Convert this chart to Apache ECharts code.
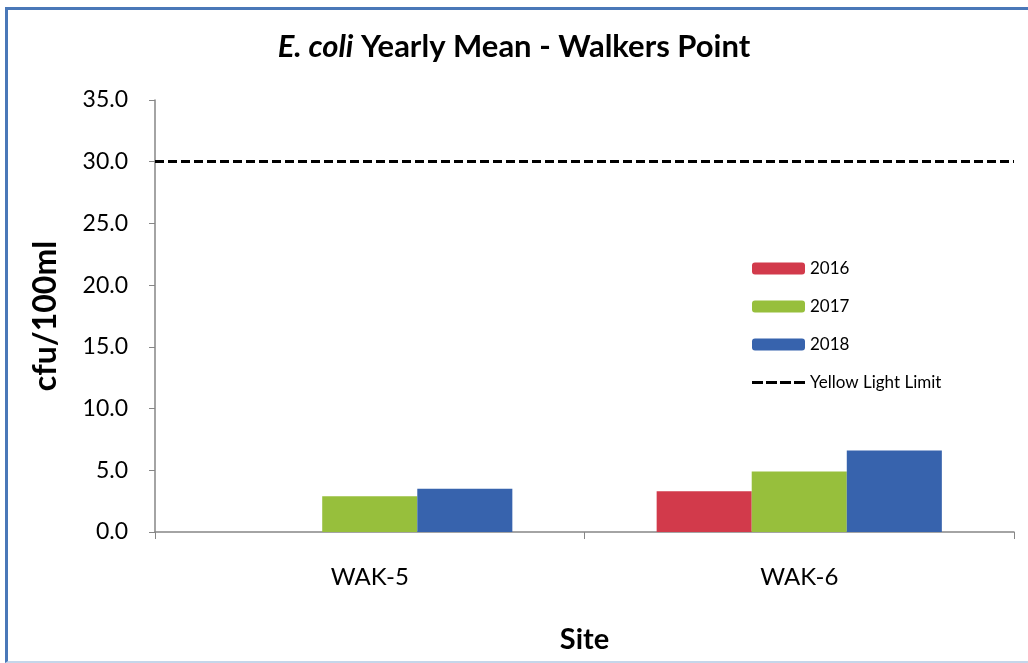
<!DOCTYPE html>
<html>
<head>
<meta charset="utf-8">
<script src="https://cdn.jsdelivr.net/npm/echarts@6/dist/echarts.min.js"></script>
<style>
html,body{margin:0;padding:0;background:#fff;}
#chart{width:1028px;height:663px;}
#frame{position:absolute;left:5px;top:7px;width:1040px;height:651px;border-left:3px solid #4a78b8;border-top:3px solid #4a78b8;border-bottom:2px solid #c5d6ea;pointer-events:none;}
</style>
</head>
<body>
<div id="chart"></div>
<div id="frame"></div>
<script>
const categories = ['WAK-5', 'WAK-6'];
const years = ['2016', '2017', '2018'];
const values2016 = [null, 3.3];
const values2017 = [2.9, 4.9];
const values2018 = [3.5, 6.6];
const limitName = 'Yellow Light Limit';
const limitValue = 30;
const yTicks = [0, 5, 10, 15, 20, 25, 30, 35];

const colors = ['#d23a4b', '#97bf3c', '#3763ad'];
const font = 'Lato, "Liberation Sans", sans-serif';
const seriesValues = [values2016, values2017, values2018];

const chart = echarts.init(document.getElementById('chart'));
const series = years.map((y, i) => ({
  name: y,
  type: 'bar',
  data: seriesValues[i],
  barGap: '0%',
  barCategoryGap: '33.6%',
  itemStyle: { color: colors[i] }
}));
series.push({
  name: limitName,
  type: 'line',
  data: [],
  symbol: 'none',
  itemStyle: { color: '#000' },
  lineStyle: { color: '#000', width: 3, type: [9, 4] },
  markLine: {
    silent: true,
    symbol: 'none',
    label: { show: false },
    lineStyle: { color: '#000', width: 3, type: [9, 4] },
    data: [{ yAxis: limitValue }]
  }
});

const dashIcon = 'path://M0,0h11v3h-11z M14,0h11v3h-11z M28,0h11v3h-11z M42,0h11v3h-11z';

chart.setOption({
  animation: false,
  backgroundColor: '#fff',
  textStyle: { fontFamily: font },
  title: {
    left: 'center',
    top: 26,
    text: '{i|E. coli}{b| Yearly Mean - Walkers Point}',
    textStyle: {
      rich: {
        i: { fontFamily: font, fontSize: 31, fontWeight: 'bold', fontStyle: 'italic', color: '#000' },
        b: { fontFamily: font, fontSize: 31, fontWeight: 'bold', color: '#000' }
      }
    }
  },
  legend: {
    orient: 'vertical',
    left: 747,
    top: 255,
    itemWidth: 53,
    itemHeight: 12,
    itemGap: 21,
    data: [...years, { name: limitName, icon: dashIcon, itemStyle: { color: '#000' } }],
    textStyle: { fontFamily: font, fontSize: 17, color: '#000', lineHeight: 14 }
  },
  grid: { left: 155, right: 14, top: 100, bottom: 131 },
  xAxis: {
    type: 'category',
    data: categories,
    name: 'Site',
    nameLocation: 'middle',
    nameGap: 93,
    nameTextStyle: { fontFamily: font, fontSize: 29, fontWeight: 'bold', color: '#000' },
    axisLine: { lineStyle: { color: '#868686', width: 1.5 } },
    axisTick: { show: true, length: 7, lineStyle: { color: '#868686' } },
    axisLabel: { fontFamily: font, fontSize: 24, color: '#000', margin: 33 }
  },
  yAxis: {
    type: 'value',
    min: yTicks[0],
    max: yTicks[yTicks.length - 1],
    interval: 5,
    name: 'cfu/100ml',
    nameLocation: 'middle',
    nameGap: 93,
    nameTextStyle: { fontFamily: font, fontSize: 32, fontWeight: 'bold', color: '#000' },
    splitLine: { show: false },
    axisLine: { show: true, lineStyle: { color: '#868686', width: 1.5 } },
    axisTick: { show: true, length: 6, inside: false, lineStyle: { color: '#868686' } },
    axisLabel: { fontFamily: font, fontSize: 23, color: '#000', margin: 27, formatter: v => v.toFixed(1) }
  },
  series: series
});
</script>
</body>
</html>
